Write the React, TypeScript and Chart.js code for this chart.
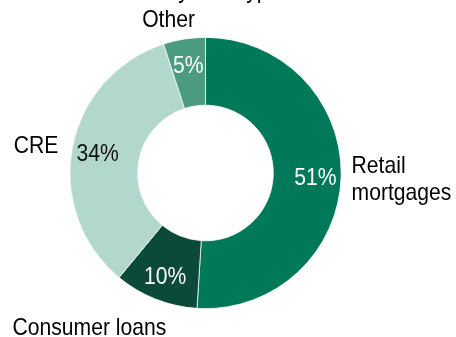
import React, { useEffect, useRef } from "react";
import { Chart, registerables } from "chart.js";

Chart.register(...registerables);

const TITLE = "Loans by loan type";
const categories = ["Retail mortgages", "Consumer loans", "CRE", "Other"];
const shares = [51, 10, 34, 5];
const colors = ["#00795A", "#0B4A38", "#B2D8CD", "#4B9C7F"];
const pctTextColors = ["#ffffff", "#ffffff", "#111111", "#ffffff"];
// category label lines, drawn outside the ring
const categoryLines = [["Retail", "mortgages"], ["Consumer loans"], ["CRE"], ["Other"]];

const FONT = "24px 'Liberation Sans', Arial, sans-serif";
const SX = 0.88;

function drawText(ctx: CanvasRenderingContext2D, text: string, x: number, y: number, align: CanvasTextAlign, color: string) {
  ctx.save();
  ctx.translate(x, y);
  ctx.scale(SX, 1);
  ctx.font = FONT;
  ctx.fillStyle = color;
  ctx.textAlign = align;
  ctx.textBaseline = "alphabetic";
  ctx.fillText(text, 0, 0);
  ctx.restore();
}

const labelPlugin = {
  id: "donutLabels",
  afterDatasetsDraw(chart: any) {
    const ctx = chart.ctx as CanvasRenderingContext2D;
    const meta = chart.getDatasetMeta(0);
    let cx = 0, cy = 0, R = 0;
    meta.data.forEach((arc: any, i: number) => {
      const p = arc.getProps(["x", "y", "startAngle", "endAngle", "innerRadius", "outerRadius"], true);
      cx = p.x; cy = p.y; R = p.outerRadius;
      const mid = (p.startAngle + p.endAngle) / 2;
      const r = p.innerRadius + 0.62 * (p.outerRadius - p.innerRadius);
      const x = p.x + Math.cos(mid) * r;
      const y = p.y + Math.sin(mid) * r + 8.5;
      drawText(ctx, shares[i] + "%", x, y, "center", pctTextColors[i]);
    });
    // outer category labels
    const k = R / 136;
    // Retail mortgages
    drawText(ctx, categoryLines[0][0], cx + 146.5 * k, cy + 0 * k, "left", "#000");
    drawText(ctx, categoryLines[0][1], cx + 146.5 * k, cy + 27 * k, "left", "#000");
    // Consumer loans
    drawText(ctx, categoryLines[1][0], cx - 193.5 * k, cy + 162 * k, "left", "#000");
    // CRE
    drawText(ctx, categoryLines[2][0], cx - 170 * k, cy - 20 * k, "center", "#000");
    // Other
    drawText(ctx, categoryLines[3][0], cx - 37 * k, cy - 146 * k, "center", "#000");
    // title (cut off at top)
    drawText(ctx, TITLE, 103, -2, "left", "#000");
  },
};

export default function App() {
  const ref = useRef<HTMLCanvasElement | null>(null);
  useEffect(() => {
    if (!ref.current) return;
    const chart = new Chart(ref.current, {
      type: "doughnut",
      data: {
        labels: categories,
        datasets: [
          {
            data: shares,
            backgroundColor: colors,
            borderColor: "#ffffff",
            borderWidth: 0.75,
            hoverOffset: 0,
            hoverBorderWidth: 0.75,
          },
        ],
      },
      options: {
        responsive: false,
        animation: false,
        cutout: "50%",
        rotation: 0,
        layout: { padding: { left: 69.5, right: 114.5, top: 37, bottom: 28 } },
        plugins: { legend: { display: false }, tooltip: { enabled: false }, title: { display: false } },
        events: [],
      },
      plugins: [labelPlugin],
    });
    return () => chart.destroy();
  }, []);
  return (
    <div style={{ position: "absolute", left: 0, top: 0, width: 456, height: 337, background: "#fff" }}>
      <canvas ref={ref} width={456} height={337} />
    </div>
  );
}
